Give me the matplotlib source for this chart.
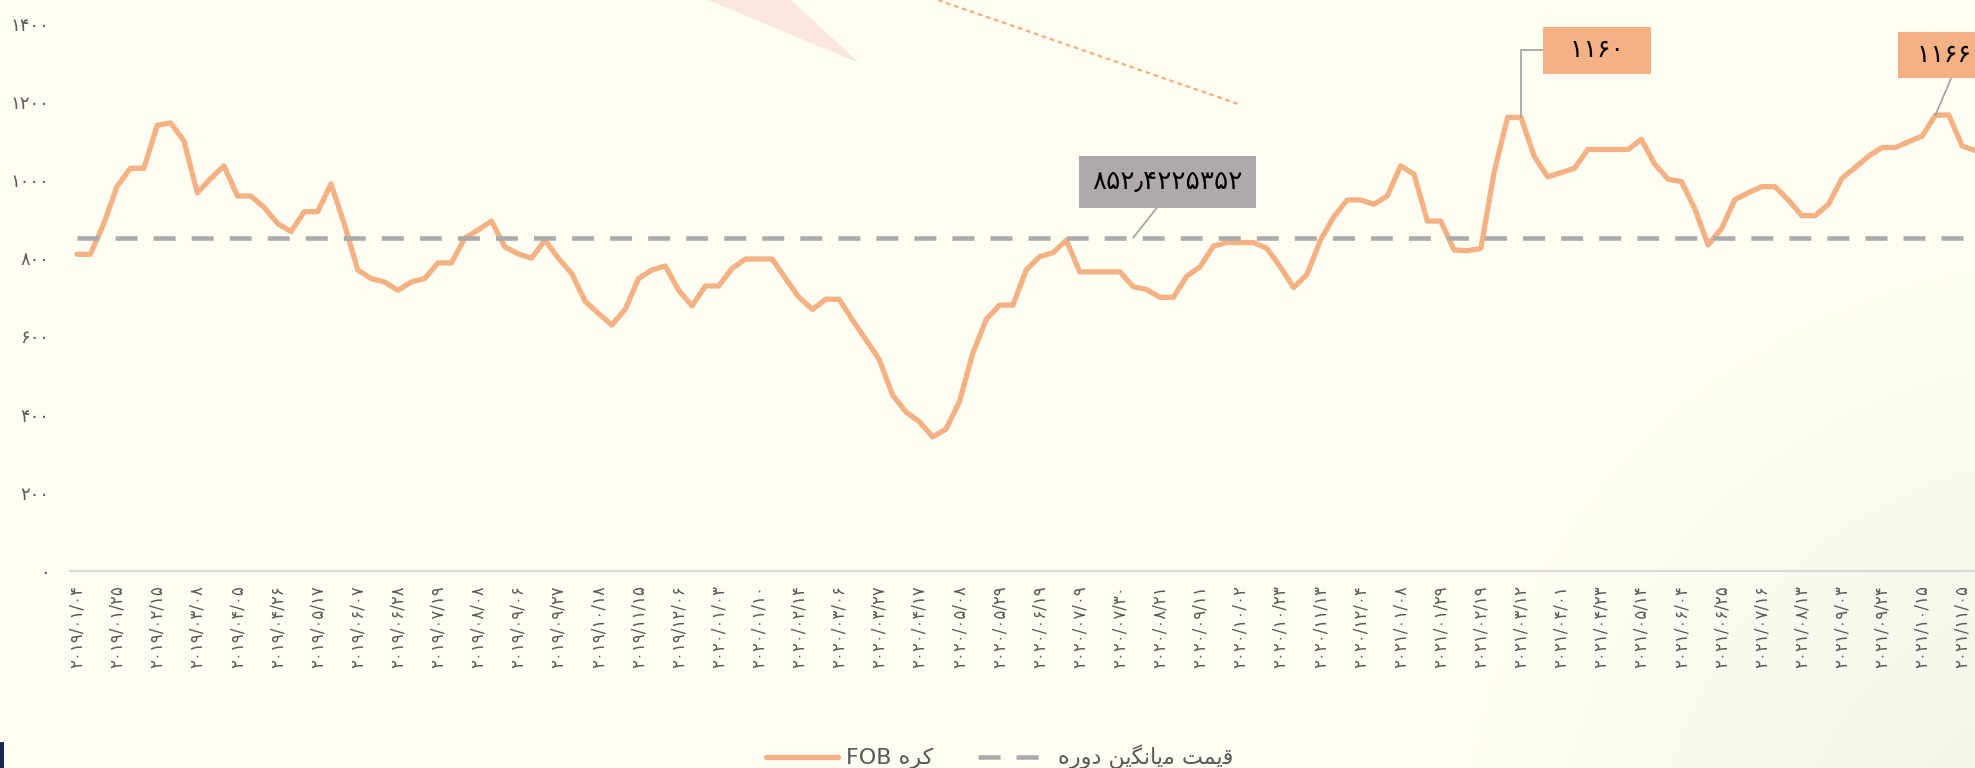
import numpy as np
import matplotlib
matplotlib.use("Agg")
import matplotlib.pyplot as plt
from matplotlib.patches import Polygon, Rectangle
from matplotlib.lines import Line2D

plt.rcParams['font.family'] = ['DejaVu Sans']

# weekly FOB price (USD/t)
prices = [810, 810, 888, 984, 1030, 1030, 1140, 1146, 1100, 967,
          1004, 1036, 959, 959, 930, 889, 868, 919, 919, 990,
          887, 770, 748, 739, 718, 739, 748, 788, 788, 851,
          872, 895, 829, 811, 800, 846, 800, 761, 690, 659,
          629, 669, 748, 770, 780, 718, 678, 729, 729, 774,
          798, 798, 798, 748, 700, 669, 695, 695, 642, 592,
          541, 450, 407, 382, 343, 363, 433, 557, 643, 680,
          680, 770, 804, 814, 846, 765, 765, 765, 765, 727,
          720, 700, 700, 754, 778, 831, 840, 840, 840, 825,
          778, 725, 759, 846, 906, 949, 949, 938, 959, 1036,
          1015, 895, 895, 821, 819, 825, 1021, 1160, 1160, 1060,
          1008, 1019, 1030, 1078, 1078, 1078, 1078, 1104, 1041, 1002,
          996, 927, 834, 876, 950, 967, 983, 983, 949, 909,
          909, 938, 1004, 1032, 1061, 1083, 1083, 1098, 1112, 1166,
          1166, 1087, 1075]
avg_price = 852.4225352

# every third category carries a date label
tick_dates = ['2019/01/04', '2019/01/25', '2019/02/15', '2019/03/08', '2019/04/05',
              '2019/04/26', '2019/05/17', '2019/06/07', '2019/06/28', '2019/07/19',
              '2019/08/08', '2019/09/06', '2019/09/27', '2019/10/18', '2019/11/15',
              '2019/12/06', '2020/01/03', '2020/01/10', '2020/02/14', '2020/03/06',
              '2020/03/27', '2020/04/17', '2020/05/08', '2020/05/29', '2020/06/19',
              '2020/07/09', '2020/07/30', '2020/08/21', '2020/09/11', '2020/10/02',
              '2020/10/23', '2020/11/13', '2020/12/04', '2021/01/08', '2021/01/29',
              '2021/02/19', '2021/03/12', '2021/04/01', '2021/04/23', '2021/05/14',
              '2021/06/04', '2021/06/25', '2021/07/16', '2021/08/13', '2021/09/03',
              '2021/09/24', '2021/10/15', '2021/11/05']
y_ticks = [0, 200, 400, 600, 800, 1000, 1200, 1400]

# legend labels, written in visual order with Arabic presentation forms
label_fob = 'FOB \uFEE9\uFEAE\uFB90'                      # کره FOB
label_avg = ('\uFEE9\uFEAD\uFEED\uFEA9 '                   # دوره
             '\uFEE6\uFBFE\uFB95\uFEE7\uFE8E\uFBFE\uFEE3 '  # میانگین
             '\uFE96\uFEE4\uFBFE\uFED7')                    # قیمت

avg_label_idx = 79
peak_label_idx = [108, 139]

fa = str.maketrans('0123456789.', '۰۱۲۳۴۵۶۷۸۹٫')

ORANGE = '#F4B183'
GREY = '#ABABAB'
TXT = '#595959'
W, H = 1975, 768

fig = plt.figure(figsize=(W / 100, H / 100), dpi=100)
fig.patch.set_facecolor('#FEFEF2')

# soft vignette toward bottom-right corner
bg = fig.add_axes([0, 0, 1, 1], zorder=-10)
bg.axis('off')
yy, xx = np.mgrid[0:H:4, 0:W:4]
d = np.hypot(xx - 2080, yy - 880)
t = np.clip(1 - d / 620, 0, 1)[..., None]
base = np.array([254, 254, 242]) / 255
edge = np.array([241, 242, 230]) / 255
bg.imshow(base * (1 - t) + edge * t, extent=[0, 1, 0, 1], aspect='auto', origin='upper')
bg.set_xlim(0, 1)
bg.set_ylim(0, 1)

# decoration fragments at the top
fig.patches.append(Polygon([(708 / W, 1), (791 / W, 1), (859 / W, 1 - 63 / H)],
                           closed=True, transform=fig.transFigure, fc='#FAE6DC', ec='none'))
fig.lines.append(Line2D([938 / W, 1241 / W], [1, 1 - 105 / H], transform=fig.transFigure,
                        color=ORANGE, lw=1.6, linestyle=(0, (2.2, 1.6))))
fig.patches.append(Rectangle((0, 0), 4 / W, 26 / H, transform=fig.transFigure,
                             fc='#1B2A4A', ec='none'))

step = 13.37
n = len(prices)
ax = fig.add_axes([(77 - step / 2) / W, (H - 571) / H, n * step / W, (571 - 23.6) / H])
ax.set_facecolor('none')

x = np.arange(n)
ax.plot(x, prices, color=ORANGE, lw=3.8, solid_joinstyle='round', solid_capstyle='round',
        label=label_fob, zorder=3)
ax.plot(x, np.full(n, avg_price), color=GREY, lw=3.3, linestyle=(0, (4.8, 3.5)),
        label=label_avg, zorder=4)

ax.set_xlim(-0.5, n - 0.5)
ax.set_ylim(0, 1400)
ax.set_yticks(y_ticks)
ax.set_yticklabels([str(v).translate(fa) for v in y_ticks])
ax.set_xticks(x[::3][:len(tick_dates)])
ax.set_xticklabels([s.translate(fa) for s in tick_dates], rotation=90)
ax.tick_params(axis='x', length=0, pad=10, labelsize=12, colors=TXT)
ax.tick_params(axis='y', length=0, pad=15, labelsize=13, colors=TXT)
for s in ['left', 'right', 'top']:
    ax.spines[s].set_visible(False)
ax.spines['bottom'].set_color('#D9D9D9')
ax.spines['bottom'].set_linewidth(1.5)

# data labels
leader = dict(arrowstyle='-', color='#A0A0A0', lw=1.2, shrinkA=0, shrinkB=0)
ax.annotate(f'{avg_price:.7f}'.translate(fa), xy=(avg_label_idx, avg_price),
            xytext=(34, 56), textcoords='offset pixels', ha='center', va='center',
            fontsize=19, color='black',
            bbox=dict(boxstyle='square,pad=0.5', fc='#ADAAA9', ec='none'),
            arrowprops=dict(leader, relpos=(0.5, 0)), zorder=6)

i = peak_label_idx[0]
ax.annotate('  ' + str(prices[i]).translate(fa) + '  ', xy=(i, prices[i]),
            xytext=(76, 67), textcoords='offset pixels', ha='center', va='center',
            fontsize=18, color='black',
            bbox=dict(boxstyle='square,pad=0.45', fc=ORANGE, ec='none'),
            arrowprops=dict(leader, relpos=(0, 0.5),
                            connectionstyle='angle,angleA=0,angleB=90,rad=0'), zorder=6)

# last label runs into the right edge, as in the original
i = peak_label_idx[1]
ax.annotate(' ' + str(prices[i]).translate(fa), xy=(i, prices[i]),
            xytext=(-26, 60), textcoords='offset pixels', ha='left', va='center',
            fontsize=18, color='black',
            bbox=dict(boxstyle='square,pad=0.45', fc=ORANGE, ec='none'),
            arrowprops=dict(leader, relpos=(0.75, 0)), zorder=6)

fig.legend(loc='center', bbox_to_anchor=(1000 / W, 1 - 757 / H), ncol=2, frameon=False,
           fontsize=16, labelcolor=TXT, handlelength=3.2, handletextpad=0.4,
           columnspacing=2.0)

fig.savefig('out.png', dpi=100, facecolor=fig.get_facecolor())
